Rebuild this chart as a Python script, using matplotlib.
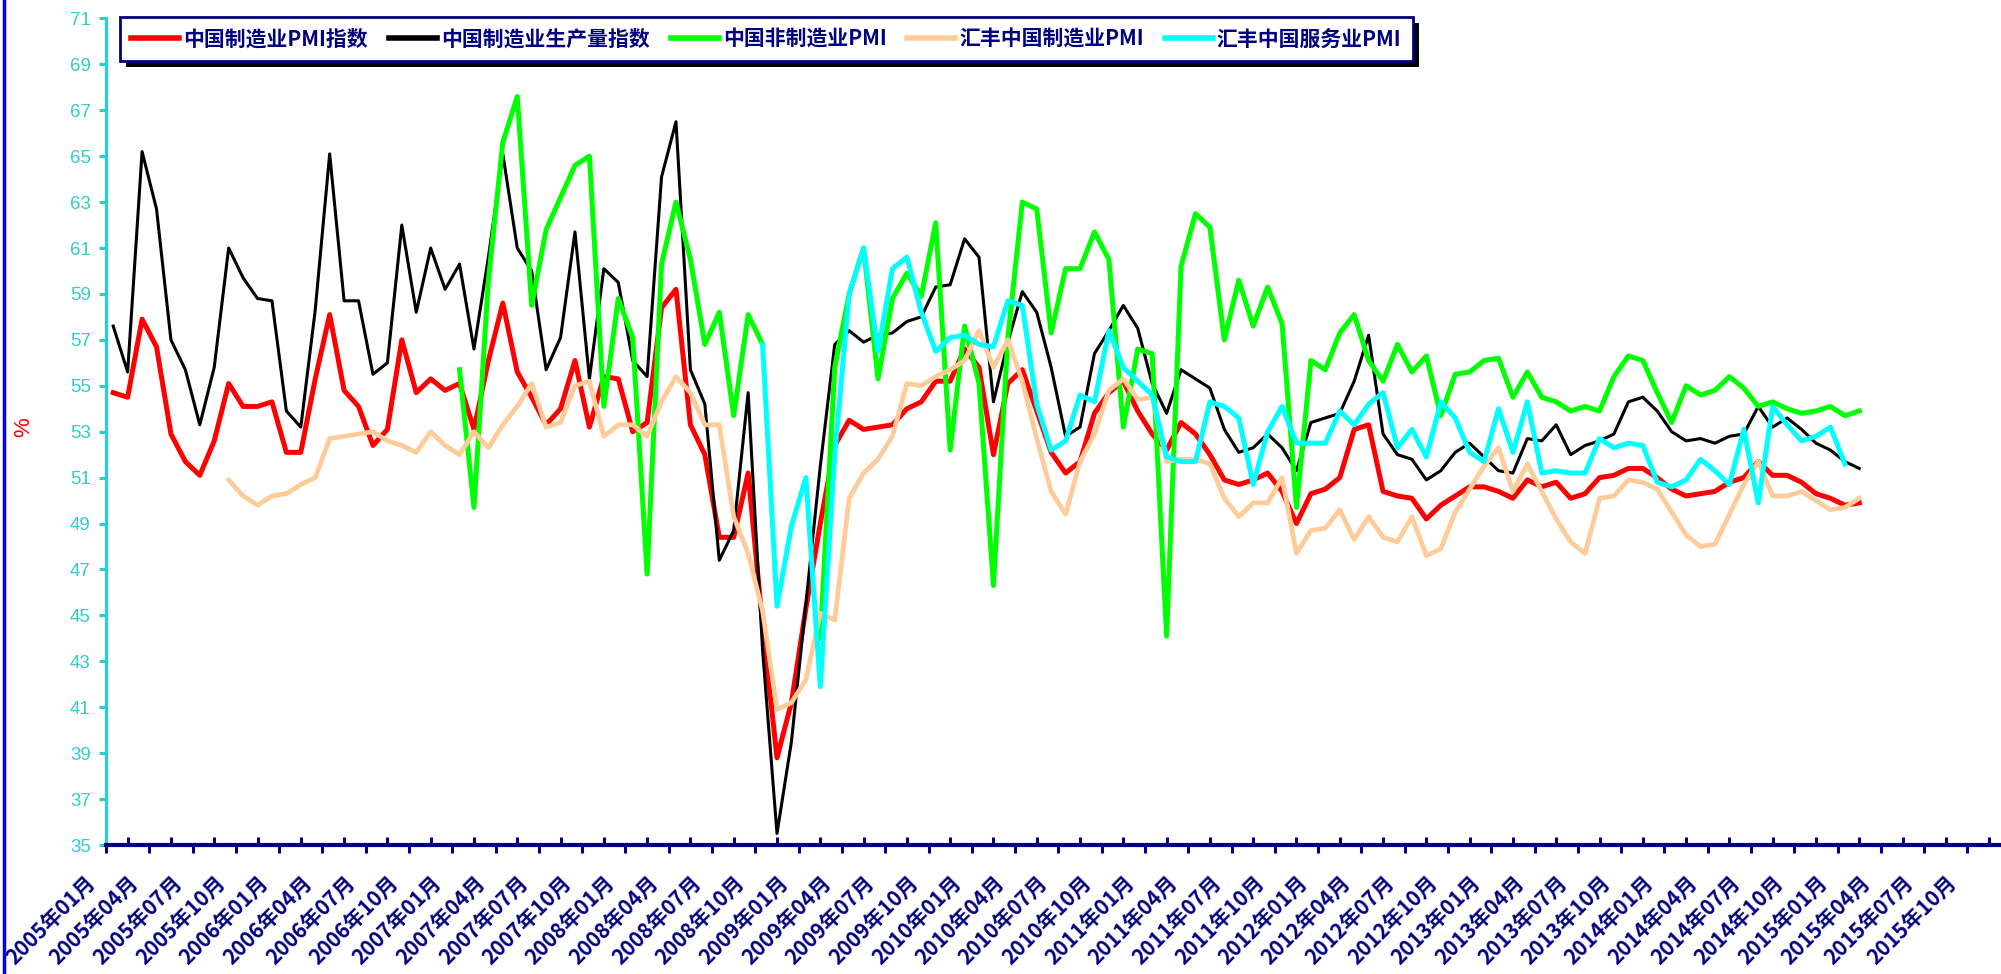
import numpy as np
import matplotlib
matplotlib.use("Agg")
import matplotlib.pyplot as plt
from matplotlib.lines import Line2D
from matplotlib.patches import Rectangle
from matplotlib.transforms import ScaledTranslation, IdentityTransform, blended_transform_factory

plt.rcParams['font.family'] = ['Noto Sans CJK SC', 'DejaVu Sans']

nan = np.nan

# monthly values, 2005-01 .. 2015-02
pmi = [54.7, 54.5, 57.9, 56.7, 52.9, 51.7, 51.1, 52.6, 55.1, 54.1, 54.1, 54.3,
       52.1, 52.1, 55.3, 58.1, 54.8, 54.1, 52.4, 53.1, 57.0, 54.7, 55.3, 54.8,
       55.1, 53.1, 56.1, 58.6, 55.6, 54.5, 53.3, 54.0, 56.1, 53.2, 55.4, 55.3,
       53.0, 53.4, 58.4, 59.2, 53.3, 52.0, 48.4, 48.4, 51.2, 44.6, 38.8, 41.2,
       45.3, 49.0, 52.4, 53.5, 53.1, 53.2, 53.3, 54.0, 54.3, 55.2, 55.2, 56.6,
       55.8, 52.0, 55.1, 55.7, 53.9, 52.1, 51.2, 51.7, 53.8, 54.7, 55.2, 53.9,
       52.9, 52.2, 53.4, 52.9, 52.0, 50.9, 50.7, 50.9, 51.2, 50.4, 49.0, 50.3,
       50.5, 51.0, 53.1, 53.3, 50.4, 50.2, 50.1, 49.2, 49.8, 50.2, 50.6, 50.6,
       50.4, 50.1, 50.9, 50.6, 50.8, 50.1, 50.3, 51.0, 51.1, 51.4, 51.4, 51.0,
       50.5, 50.2, 50.3, 50.4, 50.8, 51.0, 51.7, 51.1, 51.1, 50.8, 50.3, 50.1,
       49.8, 49.9]

production = [57.6, 55.6, 65.2, 62.7, 57.0, 55.7, 53.3, 55.8, 61.0, 59.7, 58.8, 58.7,
              53.9, 53.2, 58.3, 65.1, 58.7, 58.7, 55.5, 56.0, 62.0, 58.2, 61.0, 59.2,
              60.3, 56.6, 60.6, 65.1, 61.0, 60.0, 55.7, 57.1, 61.7, 55.3, 60.1, 59.5,
              56.1, 55.4, 64.1, 66.5, 55.7, 54.2, 47.4, 48.7, 54.7, 43.5, 35.5, 39.5,
              45.5, 51.5, 56.8, 57.4, 56.9, 57.2, 57.3, 57.8, 58.0, 59.3, 59.4, 61.4,
              60.6, 54.3, 56.9, 59.1, 58.2, 55.8, 52.8, 53.2, 56.4, 57.4, 58.5, 57.5,
              55.1, 53.8, 55.7, 55.3, 54.9, 53.1, 52.1, 52.3, 52.9, 52.3, 51.3, 53.4,
              53.6, 53.8, 55.2, 57.2, 52.9, 52.0, 51.8, 50.9, 51.3, 52.1, 52.5, 51.9,
              51.3, 51.2, 52.7, 52.6, 53.3, 52.0, 52.4, 52.6, 52.9, 54.3, 54.5, 53.9,
              53.0, 52.6, 52.7, 52.5, 52.8, 52.9, 54.1, 53.2, 53.6, 53.1, 52.5, 52.2,
              51.7, 51.4]

non_mfg = [nan] * 24 + [
           55.7, 49.7, 59.6, 65.6, 67.6, 58.5, 61.8, 63.2, 64.6, 65.0, 54.1, 58.8,
           57.1, 46.8, 60.3, 63.0, 60.5, 56.8, 58.2, 53.7, 58.1, 56.8, nan, nan,
           nan, 44.0, 55.8, 59.0, 61.0, 55.3, 58.8, 59.9, 58.9, 62.1, 52.2, 57.6,
           55.1, 46.3, 57.1, 63.0, 62.7, 57.3, 60.1, 60.1, 61.7, 60.5, 53.2, 56.6,
           56.4, 44.1, 60.2, 62.5, 61.9, 57.0, 59.6, 57.6, 59.3, 57.7, 49.7, 56.1,
           55.7, 57.3, 58.1, 56.1, 55.2, 56.8, 55.6, 56.3, 53.7, 55.5, 55.6, 56.1,
           56.2, 54.5, 55.6, 54.5, 54.3, 53.9, 54.1, 53.9, 55.4, 56.3, 56.1, 54.7,
           53.4, 55.0, 54.6, 54.8, 55.4, 54.9, 54.1, 54.3, 54.0, 53.8, 53.9, 54.1,
           53.7, 53.9]

hsbc_mfg = [nan] * 8 + [
            50.9, 50.2, 49.8, 50.2,
            50.3, 50.7, 51.0, 52.7, 52.8, 52.9, 53.0, 52.6, 52.4, 52.1, 53.0, 52.4,
            52.0, 53.0, 52.3, 53.3, 54.1, 55.1, 53.2, 53.4, 55.0, 55.2, 52.8, 53.3,
            53.3, 52.8, 54.3, 55.4, 54.7, 53.3, 53.3, 49.3, 47.7, 45.2, 40.9, 41.2,
            42.2, 45.1, 44.8, 50.1, 51.2, 51.8, 52.8, 55.1, 55.0, 55.4, 55.7, 56.1,
            57.4, 55.8, 57.0, 55.2, 52.7, 50.4, 49.4, 51.7, 52.9, 54.8, 55.3, 54.4,
            54.5, 51.7, 51.8, 51.8, 51.6, 50.1, 49.3, 49.9, 49.9, 51.0, 47.7, 48.7,
            48.8, 49.6, 48.3, 49.3, 48.4, 48.2, 49.3, 47.6, 47.9, 49.5, 50.5, 51.5,
            52.3, 50.4, 51.6, 50.4, 49.2, 48.2, 47.7, 50.1, 50.2, 50.9, 50.8, 50.5,
            49.5, 48.5, 48.0, 48.1, 49.4, 50.7, 51.7, 50.2, 50.2, 50.4, 50.0, 49.6,
            49.7, 50.1]

hsbc_serv = [nan] * 45 + [
             56.8, 45.4, 48.9,
             51.0, 41.9, 52.0, 59.0, 61.0, 56.5, 60.1, 60.6, 58.2, 56.5, 57.1, 57.2,
             56.8, 56.7, 58.7, 58.5, 54.2, 52.2, 52.6, 54.6, 54.3, 57.4, 55.8, 55.2,
             54.6, 51.9, 51.7, 51.7, 54.3, 54.1, 53.6, 50.7, 53.0, 54.1, 52.5, 52.5,
             52.5, 53.9, 53.3, 54.2, 54.7, 52.3, 53.1, 51.9, 54.3, 53.6, 52.1, 51.7,
             54.0, 52.1, 54.3, 51.2, 51.3, 51.2, 51.2, 52.7, 52.3, 52.5, 52.4, 50.8,
             50.6, 50.9, 51.8, 51.3, 50.7, 53.1, 49.9, 54.1, 53.3, 52.6, 52.8, 53.2,
             51.6, nan]

series_names = ['中国制造业PMI指数', '中国制造业生产量指数', '中国非制造业PMI',
                '汇丰中国制造业PMI', '汇丰中国服务业PMI']
series_colors = ['#FF0000', '#000000', '#00FF00', '#FFCC99', '#00FFFF']
series_widths = [3.6, 2.2, 3.6, 3.4, 3.6]

years = list(range(2005, 2016))
label_months = ['01', '04', '07', '10']
xlabels = [f'{y}年{m}月' for y in years for m in label_months]

navy = '#000080'
teal = '#33CCCC'

fig = plt.figure(figsize=(20.01, 9.74), dpi=100)
W, H = 2001, 974
ax = fig.add_axes([106 / W, (H - 845) / H, (2000 - 106) / W, (845 - 18.4) / H])
ax.patch.set_visible(False)

data = [pmi, production, non_mfg, hsbc_mfg, hsbc_serv]
months = np.arange(len(pmi))
for vals, name, col, lw in zip(data, series_names, series_colors, series_widths):
    ax.plot(months, np.array(vals, dtype=float), color=col, lw=lw, label=name,
            solid_joinstyle='round')

px_per_month = 14.43
ax.set_xlim(-0.5, -0.5 + (2000 - 106) / px_per_month)
ax.set_ylim(35, 71)
ax.set_yticks(range(35, 72, 2))

for s in ['top', 'right']:
    ax.spines[s].set_visible(False)
ax.spines['left'].set_color(teal)
ax.spines['left'].set_linewidth(2.4)
ax.spines['bottom'].set_color(navy)
ax.spines['bottom'].set_linewidth(3.0)
ax.spines['bottom'].set_zorder(3)

ax.tick_params(axis='y', colors=teal, direction='out', length=5, width=2.2,
               labelsize=13.5, pad=6)
for lab in ax.get_yticklabels():
    lab.set_family(['Liberation Sans Narrow', 'Liberation Sans'])

major_x = [-0.5 + 3 * k for k in range(len(xlabels))]
minor_x = [1 + 3 * k for k in range(len(xlabels))]
ax.set_xticks(major_x)
ax.set_xticks(minor_x, minor=True)
ax.tick_params(axis='x', which='major', direction='out', length=6, width=2.2,
               color=navy, labelbottom=False)
ax.tick_params(axis='x', which='minor', direction='in', length=6, width=2.2,
               color=navy)

trans = blended_transform_factory(ax.transData, ax.transAxes) + \
    ScaledTranslation(-0.14, -0.34, fig.dpi_scale_trans)
for xp, txt in zip(major_x, xlabels):
    ax.text(xp, 0, txt, transform=trans, rotation=45, rotation_mode='anchor',
            ha='right', va='center', color=navy, fontsize=15, fontweight='bold',
            clip_on=False)

fig.text(24 / W, 1 - 427 / H, '%', rotation=90, color='red', fontsize=16,
         ha='center', va='center', family=['Liberation Sans', 'DejaVu Sans'])

# blue line down the left edge
fig.add_artist(Line2D([4 / W, 4 / W], [0, 1], color='#0000FF', lw=2.5,
                      transform=fig.transFigure))

leg = ax.legend(loc='upper left', bbox_to_anchor=(120 / W, 1 - 17 / H),
                bbox_transform=fig.transFigure, ncol=5, frameon=True,
                fancybox=False, framealpha=1, edgecolor=navy, borderaxespad=0,
                borderpad=0.55, handlelength=2.3, handletextpad=0.2,
                columnspacing=1.0,
                prop=dict(family=['Noto Sans CJK SC'], weight='bold', size=15))
leg.get_frame().set_linewidth(2)
for t in leg.get_texts():
    t.set_color(navy)
for h in leg.get_lines():
    h.set_linewidth(4)
leg.set_zorder(6)

fig.canvas.draw()
bb = leg.get_window_extent()
shadow = Rectangle((bb.x0 + 6, bb.y0 - 6), bb.width, bb.height,
                   transform=IdentityTransform(), facecolor='black',
                   edgecolor='none', zorder=5.5, clip_on=False)
ax.add_artist(shadow)

fig.savefig('out.png', dpi=100, facecolor='white')
